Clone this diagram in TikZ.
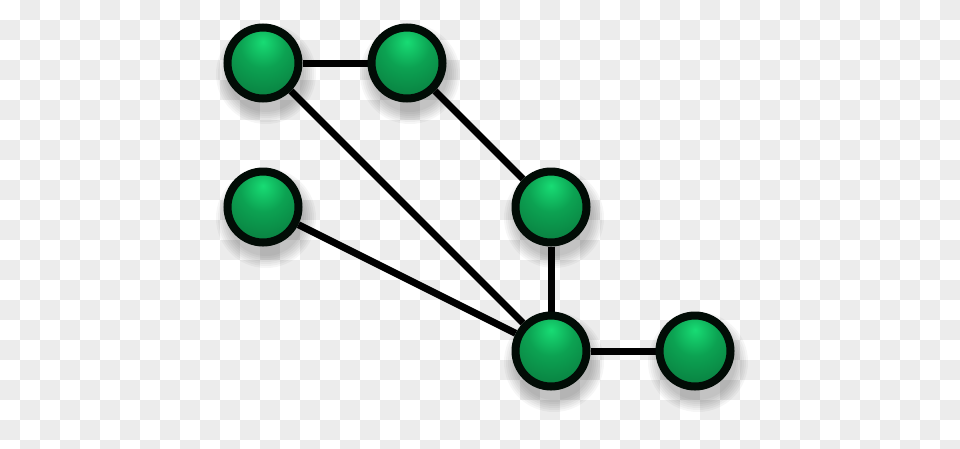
\documentclass[tikz,border=0pt]{standalone}
\usetikzlibrary{calc,backgrounds}
\definecolor{hl}{RGB}{24,220,116}
\definecolor{midg}{RGB}{12,162,82}
\definecolor{darkg}{RGB}{8,108,54}
\definecolor{checker}{RGB}{236,236,236}
\definecolor{rim}{RGB}{2,12,6}
\pgfdeclareradialshading{greenball}{\pgfpoint{0bp}{15bp}}{%
  color(0bp)=(hl); color(16bp)=(midg); color(46bp)=(darkg); color(100bp)=(darkg)}
\tikzset{
  netnode/.style={circle, minimum size=71pt, inner sep=0pt, draw=rim, line width=8pt, shading=greenball},
  link/.style={draw=black, line width=7pt},
}
\begin{document}
\begin{tikzpicture}[x=1pt,y=-1pt]
\useasboundingbox (0,0) rectangle (960,448);
\node[netnode] (a) at (263,63) {};
\node[netnode] (b) at (407,63) {};
\node[netnode] (c) at (263,207) {};
\node[netnode] (d) at (551,207) {};
\node[netnode] (e) at (551,351) {};
\node[netnode] (f) at (695,351) {};
\begin{pgfonlayer}{background}
\fill[white] (0,0) rectangle (960,448);
\foreach \i in {0,...,47}{
  \foreach \j in {0,...,22}{
    \pgfmathtruncatemacro{\cpar}{mod(\i+\j,2)}
    \ifnum\cpar=1
      \fill[checker] (\i*20,\j*20) rectangle ++(20,20);
    \fi
  }
}
\foreach \n in {a,b,c,d,e,f}{
  \foreach \r in {50,48,...,38}{
    \fill[black, opacity=0.035] ($(\n.center)+(3,11)$) circle (\r);
  }
}
\draw[link] (a) -- (b);
\draw[link] (b) -- (d);
\draw[link] (a) -- (e);
\draw[link] (c) -- (e);
\draw[link] (d) -- (e);
\draw[link] (e) -- (f);
\end{pgfonlayer}
\end{tikzpicture}
\end{document}
